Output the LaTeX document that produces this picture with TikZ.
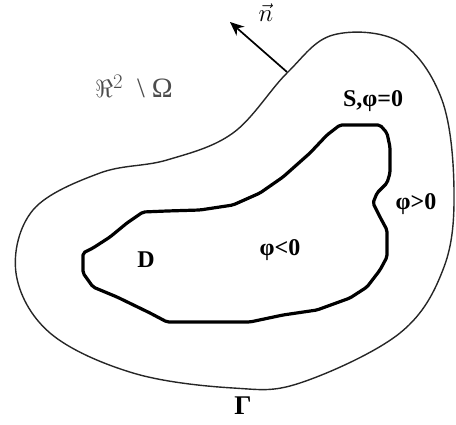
\documentclass[tikz,border=0pt]{standalone}
\usepackage{fontspec}
\setmainfont{Liberation Serif}
\usetikzlibrary{arrows.meta}
\begin{document}
\begin{tikzpicture}[x=1pt,y=-1pt,
  lbl/.style={font=\fontsize{24}{26}\selectfont\bfseries, inner sep=0pt},
  outer/.style={line width=1.4pt, black!85},
  inner/.style={line width=3.2pt, line join=round, rounded corners=2pt},
  normal/.style={line width=1.7pt, -{Stealth[length=14pt,width=12pt]}}]
\useasboundingbox (0,0) rectangle (456,425);
% outer boundary Gamma
\draw[outer] plot[smooth cycle, tension=0.6] coordinates {
  (33,210) (100,173) (167,160) (233,133) (287,73) (333,35) (400,42)
  (442,100) (454,190) (444,267) (400,333) (300,383) (233,388)
  (133,373) (50,333) (16,273)};
% inner boundary S
\draw[inner] (83,253) -- (93,248) -- (110,237) -- (127,223) -- (143,212)
  -- (167,211) -- (200,210) -- (233,205) -- (260,193) -- (283,177)
  -- (310,153) -- (327,135) -- (340,125) -- (380,125) -- (387,133)
  -- (390,147) -- (390,173) -- (387,183) -- (377,193) -- (373,203)
  -- (380,217) -- (387,230) -- (387,257) -- (380,270) -- (367,287)
  -- (350,298) -- (317,310) -- (283,315) -- (250,322) -- (217,322)
  -- (167,322) -- (150,313) -- (117,297) -- (93,287) -- (83,273) -- cycle;
% normal vector
\coordinate (nb) at (287,72);
\coordinate (nt) at (230,22);
\draw[normal] (nb) -- (nt);
\node[inner sep=0pt, font=\fontsize{30}{32}\selectfont] (nlab) at (266,13) {$\vec{n}$};
% labels
\node[inner sep=0pt, font=\fontsize{28}{30}\selectfont, text=black!70] (ext) at (134,86) {$\Re^2$\ \ \textbackslash\ Ω};
\node[lbl] (s) at (373,101) {S,φ=0};
\node[lbl] (pos) at (416,204) {φ>0};
\node[lbl] (neg) at (280,250) {φ<0};
\node[lbl] (d) at (146,260) {D};
\node[lbl, font=\fontsize{27}{29}\selectfont\bfseries] (g) at (243,406) {Γ};
\end{tikzpicture}
\end{document}
